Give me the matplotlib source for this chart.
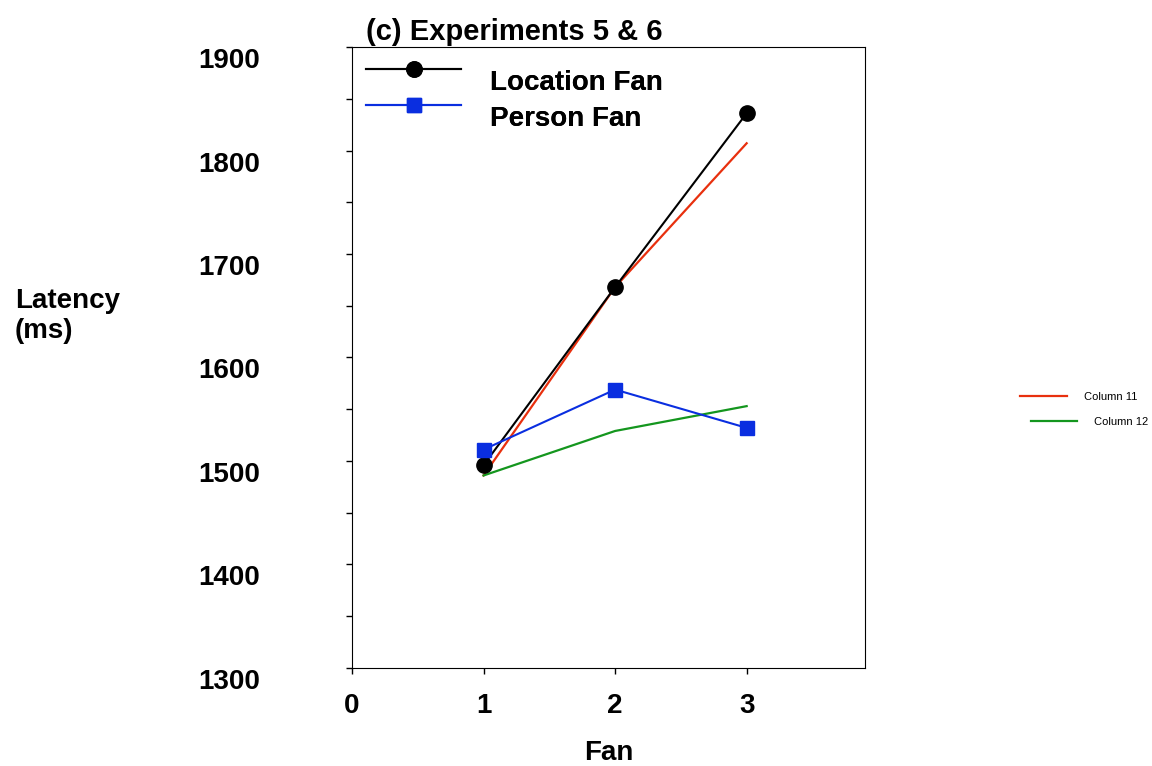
import matplotlib
matplotlib.use("Agg")
import matplotlib.pyplot as plt
import matplotlib.transforms as mtransforms
from matplotlib.legend_handler import HandlerLine2D

plt.rcParams['font.family'] = ['Liberation Sans', 'DejaVu Sans']

# data
fan = [1, 2, 3]
location_fan = [1496, 1668, 1836]
person_fan = [1511, 1569, 1532]
column_11 = [1486, 1668, 1807]
column_12 = [1486, 1529, 1553]

x_ticks = [0, 1, 2, 3]
y_ticks = [1300, 1400, 1500, 1600, 1700, 1800, 1900]


class RaisedHandler(HandlerLine2D):
    # legend handles sit a bit above their labels in the original
    def create_artists(self, legend, orig_handle, xdescent, ydescent, width,
                       height, fontsize, trans):
        trans = mtransforms.Affine2D().translate(0, 8) + trans
        return super().create_artists(legend, orig_handle, xdescent, ydescent,
                                      width, height, fontsize, trans)


fig = plt.figure(figsize=(11.52, 7.66), dpi=100)
ax = fig.add_axes([0.3056, 0.128, 0.4453, 0.8106])

ax.plot(fan, column_11, color='#e8300e', lw=1.6, label='Column 11')
ax.plot(fan, column_12, color='#14961e', lw=1.6, label='Column 12')
l1, = ax.plot(fan, location_fan, color='black', lw=1.5, marker='o', markersize=11,
              label='Location Fan')
l2, = ax.plot(fan, person_fan, color='#0a2ee0', lw=1.5, marker='s', markersize=10.5,
              label='Person Fan')

ax.set_xlim(0, 3.9)
ax.set_ylim(1300, 1900)
ax.set_xticks(x_ticks)
ax.set_yticks(y_ticks)
ax.set_yticks([1350, 1450, 1550, 1650, 1750, 1850], minor=True)
ax.tick_params(axis='both', which='both', direction='out', length=4, width=1)
ax.tick_params(axis='y', which='major', pad=62)
ax.tick_params(axis='x', which='major', pad=14)
for lab in ax.get_xticklabels() + ax.get_yticklabels():
    lab.set_fontsize(20)
    lab.set_fontweight('bold')

# y labels sit a little below their ticks in the original
offset = mtransforms.ScaledTranslation(0, -0.11, fig.dpi_scale_trans)
for lab in ax.get_yticklabels():
    lab.set_transform(lab.get_transform() + offset)

fig.text(0.013, 0.587, 'Latency\n(ms)', fontsize=20, fontweight='bold',
         ha='left', va='center', linespacing=1.2)
ax.set_xlabel('Fan', fontsize=20, fontweight='bold', labelpad=15)
ax.set_title('(c) Experiments 5 & 6', fontsize=21, fontweight='bold', loc='left',
             x=0.027, pad=5)

leg1 = ax.legend(handles=[l1, l2], loc='upper left', frameon=False,
                 prop={'weight': 'bold', 'size': 20},
                 handler_map={l1: RaisedHandler(), l2: RaisedHandler()},
                 handlelength=3.4, handletextpad=1.05, bbox_to_anchor=(0.0, 0.987),
                 borderaxespad=0.12, borderpad=0.4, labelspacing=0.36)
ax.add_artist(leg1)

h11, h12 = ax.get_lines()[0], ax.get_lines()[1]
leg2 = fig.legend(handles=[h11], loc='center left', frameon=False, fontsize=8,
                  bbox_to_anchor=(0.877, 0.482), handlelength=4.2, handletextpad=1.5)
leg3 = fig.legend(handles=[h12], loc='center left', frameon=False, fontsize=8,
                  bbox_to_anchor=(0.886, 0.4495), handlelength=4.2, handletextpad=1.5)

fig.savefig('out.png', dpi=100)
